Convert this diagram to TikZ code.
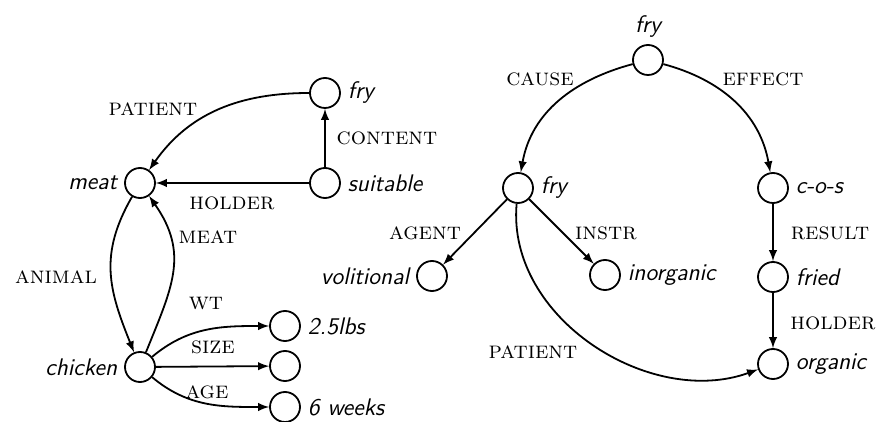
\documentclass[tikz,border=0pt]{standalone}
\usepackage{tikz}
\usetikzlibrary{arrows}
\tikzstyle{concept} =[
    draw,
    circle,
    line width=0.9pt,
    minimum size=15pt,
    inner sep=0pt,
    label distance=3pt
    ]
\tikzstyle{rel} = [
    font=\large\scshape,
    inner sep=0pt
    ]
\tikzstyle{link} = [
    -latex,
    line width=0.9pt
    ]
\newcommand{\w}[1]{\large\sffamily\itshape #1}

\begin{document}
\begin{tikzpicture}[x=0.5pt,y=0.5pt]
\useasboundingbox (0,0) rectangle (880,-422);
% left graph
\node[concept, label={right:\w{fry}}] (fryA) at (325,-93) {};
\node[concept, label={right:\w{suitable}}] (suitable) at (325,-183) {};
\node[concept, label={left:\w{meat}}] (meat) at (140,-183) {};
\node[concept, label={left:\w{chicken}}] (chicken) at (140,-367) {};
\node[concept, label={right:\w{2.5lbs}}] (weight) at (285,-326) {};
\node[concept] (size) at (285,-366) {};
\node[concept, label={right:\w{6 weeks}}] (age) at (285,-407) {};

\draw[link] (fryA) to[out=180,in=55] (meat);
\draw[link] (suitable) -- (fryA);
\draw[link] (suitable) -- (meat);
\draw[link] (meat) to[out=240,in=112,looseness=1.1] (chicken);
\draw[link] (chicken) to[out=68,in=-55,looseness=1.15] (meat);
\draw[link] (chicken) to[out=40,in=180] (weight);
\draw[link] (chicken) -- (size);
\draw[link] (chicken) to[out=-40,in=180] (age);

\node[rel] (patientA) at (153,-109) {patient};
\node[rel] (content) at (387,-138) {content};
\node[rel] (holderA) at (232,-203) {holder};
\node[rel] (meatrel) at (208,-237) {meat};
\node[rel] (animal) at (56,-277) {animal};
\node[rel] (wt) at (206,-303) {wt};
\node[rel] (sizerel) at (213,-347) {size};
\node[rel] (agerel) at (207,-392) {age};

% right graph
\node[concept, label={above:\w{fry}}] (fryTop) at (648,-60) {};
\node[concept, label={right:\w{fry}}] (fryB) at (518,-188) {};
\node[concept, label={right:\w{c-o-s}}] (cos) at (773,-188) {};
\node[concept, label={left:\w{volitional}}] (volit) at (432,-276) {};
\node[concept, label={right:\w{inorganic}}] (inorg) at (605,-275) {};
\node[concept, label={right:\w{fried}}] (fried) at (773,-277) {};
\node[concept, label={right:\w{organic}}] (organic) at (773,-364) {};

\draw[link] (fryTop) to[out=195,in=80] (fryB);
\draw[link] (fryTop) to[out=-15,in=100] (cos);
\draw[link] (fryB) -- (volit);
\draw[link] (fryB) -- (inorg);
\draw[link] (fryB) to[out=265,in=200] (organic);
\draw[link] (cos) -- (fried);
\draw[link] (fried) -- (organic);

\node[rel] (cause) at (540,-79) {cause};
\node[rel] (effect) at (763,-79) {effect};
\node[rel] (agent) at (425,-233) {agent};
\node[rel] (instr) at (606,-233) {instr};
\node[rel] (result) at (830,-233) {result};
\node[rel] (holderB) at (833,-323) {holder};
\node[rel] (patientB) at (533,-352) {patient};
\end{tikzpicture}
\end{document}
